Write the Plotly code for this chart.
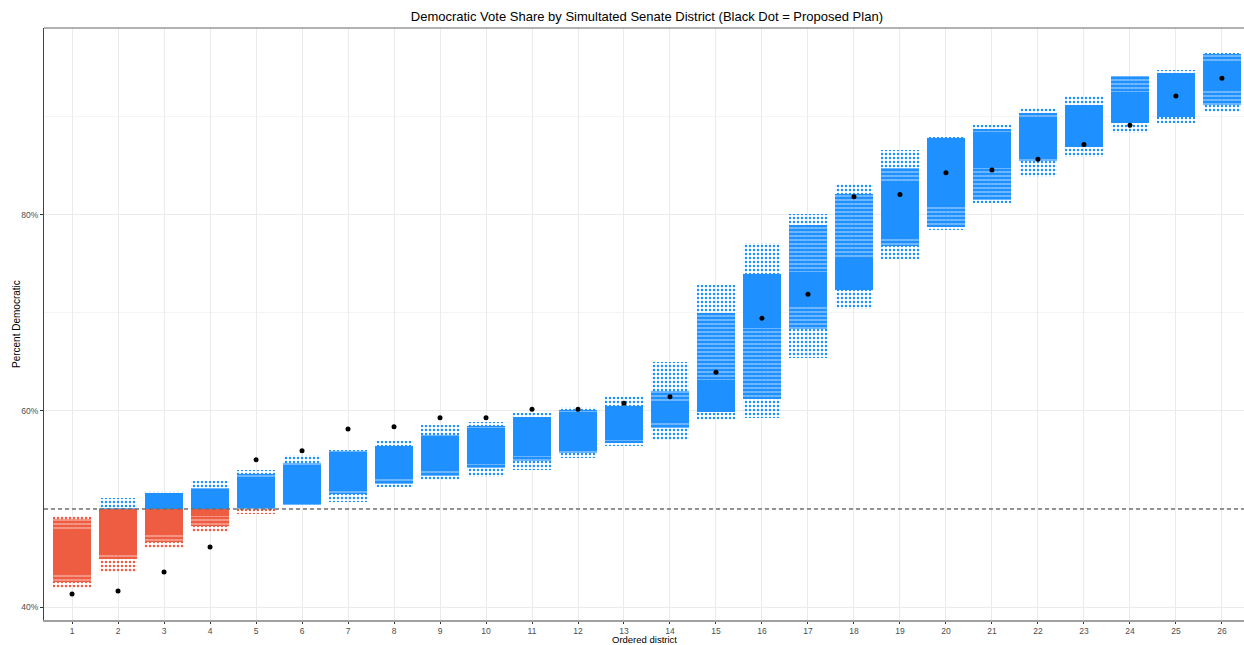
import plotly.graph_objects as go

# ---------------- data ----------------
districts = list(range(1, 27))
tick_labels = [str(d) for d in districts]

# full extent of the simulated points (sparse outliers included)
outer_lo = [41.9, 43.6, 46.0, 47.7, 49.5, 50.4, 50.75, 52.2, 52.95, 53.3, 54.0, 55.2, 56.4,
            57.0, 59.1, 59.3, 65.4, 70.4, 75.5, 78.5, 81.2, 83.9, 85.9, 88.4, 89.4, 90.5]
outer_hi = [49.3, 51.1, 51.8, 52.9, 54.0, 55.5, 56.0, 56.9, 58.6, 58.9, 59.8, 60.4, 61.5,
            65.0, 72.9, 77.1, 80.1, 83.2, 86.6, 88.0, 89.2, 90.9, 92.1, 94.2, 94.8, 96.5]
# streaky (fairly dense) band
mid_lo = [42.5, 44.9, 46.6, 48.3, 50.0, 50.4, 51.5, 52.6, 53.4, 54.2, 54.9, 55.7, 56.7,
          58.3, 59.9, 61.2, 68.4, 72.3, 76.8, 78.8, 81.5, 85.5, 86.9, 89.4, 90.0, 91.2]
mid_hi = [49.0, 50.1, 51.6, 52.1, 53.6, 54.7, 55.95, 56.4, 57.6, 58.5, 59.4, 60.1, 60.5,
          62.0, 70.0, 74.0, 79.0, 82.1, 84.8, 87.9, 88.8, 90.4, 91.2, 94.2, 94.5, 96.4]
# solid core band
core_lo = [43.5, 45.5, 47.3, 49.3, 50.1, 50.5, 52.0, 53.3, 54.0, 54.6, 55.4, 56.0, 57.0,
           58.9, 59.9, 68.5, 70.6, 72.4, 77.8, 80.9, 84.8, 85.8, 87.0, 89.5, 90.0, 92.9]
core_hi = [48.0, 50.0, 51.5, 52.0, 53.3, 54.5, 55.8, 56.3, 57.4, 58.3, 59.2, 59.9, 60.4,
           60.8, 63.2, 74.0, 74.2, 75.5, 83.4, 87.8, 88.5, 90.0, 91.0, 92.6, 94.5, 95.5]
# proposed plan (black dots)
proposed = [41.33, 41.63, 43.57, 46.12, 55.03, 55.95, 58.16, 58.4, 59.32, 59.32, 60.17,
            60.17, 60.78, 61.46, 63.95, 69.46, 71.92, 81.85, 82.1, 84.32, 84.59, 85.7,
            87.18, 89.15, 92.14, 93.95]
threshold = 50.0
y_ticks = [40, 60, 80]
y_tick_labels = ["40%", "60%", "80%"]

RED = "#EE5C42"
BLUE = "#1E90FF"
BAR_W = 0.84

fig = go.Figure()


def split(lo, hi, below):
    bases, lens = [], []
    for a, b in zip(lo, hi):
        if below:
            top = min(b, threshold)
            if a < top:
                bases.append(a); lens.append(top - a)
            else:
                bases.append(None); lens.append(None)
        else:
            bot = max(a, threshold)
            if b > bot:
                bases.append(bot); lens.append(b - bot)
            else:
                bases.append(None); lens.append(None)
    return bases, lens


def add_layer(lo, hi, pattern):
    for below, col in ((True, RED), (False, BLUE)):
        bases, lens = split(lo, hi, below)
        marker = dict(color=col, line=dict(width=0))
        if pattern is not None:
            marker["pattern"] = dict(shape=pattern[0], size=pattern[1], solidity=pattern[2],
                                     fgcolor=col, bgcolor="rgba(0,0,0,0)", fillmode="replace")
        fig.add_trace(go.Bar(x=districts, y=lens, base=bases, width=BAR_W,
                             marker=marker, showlegend=False, hoverinfo="skip"))


add_layer(outer_lo, outer_hi, (".", 4, 0.3))
add_layer(mid_lo, mid_hi, ("-", 4, 0.82))
add_layer(core_lo, core_hi, None)

fig.add_trace(go.Scatter(x=districts, y=proposed, mode="markers",
                         marker=dict(color="black", size=5), showlegend=False,
                         hoverinfo="skip"))

# 50% reference line
fig.add_shape(type="line", xref="paper", x0=0, x1=1, yref="y", y0=threshold, y1=threshold,
              line=dict(color="#707070", width=1.5, dash="4px,3px"), layer="above")
# top border of panel
fig.add_shape(type="line", xref="paper", x0=0, x1=1, yref="paper", y0=1, y1=1,
              line=dict(color="#666666", width=1))

FONT = "Liberation Sans, Arial, sans-serif"
fig.update_layout(
    width=1244, height=645,
    margin=dict(l=44, r=0, t=28, b=25, autoexpand=False),
    paper_bgcolor="white", plot_bgcolor="white",
    barmode="overlay", bargap=0,
    font=dict(family=FONT, color="black"),
    title=dict(text="Democratic Vote Share by Simultated Senate District (Black Dot = Proposed Plan)",
               x=0.52, xanchor="center", xref="container", y=1 - 16 / 645, yanchor="middle",
               yref="container", font=dict(size=13, color="black", family=FONT)),
    xaxis=dict(range=[0.39, 26.48], tickvals=districts, ticktext=tick_labels,
               showgrid=True, gridcolor="#EBEBEB", gridwidth=1, zeroline=False,
               showline=True, linecolor="#A0A0A0", linewidth=2,
               ticks="outside", ticklen=2, tickcolor="#333333", tickwidth=1,
               tickfont=dict(size=8.5, color="#4D4D4D", family=FONT), automargin=False),
    yaxis=dict(range=[38.673, 99.08], tickvals=y_ticks, ticktext=y_tick_labels,
               showgrid=True, gridcolor="#EBEBEB", gridwidth=1, zeroline=False,
               minor=dict(dtick=10, tick0=0, showgrid=True, gridcolor="#F4F4F4", gridwidth=1),
               showline=True, linecolor="#444444", linewidth=1,
               ticks="outside", ticklen=3, tickcolor="#333333", tickwidth=1,
               tickfont=dict(size=8.5, color="#4D4D4D", family=FONT), automargin=False),
    annotations=[
        dict(text="Percent Democratic", xref="paper", yref="paper", x=0, y=0.5,
             xshift=-28, xanchor="center", yanchor="middle", textangle=-90, showarrow=False,
             font=dict(size=10, color="black", family=FONT)),
        dict(text="Ordered district", xref="paper", yref="paper", x=0.5, y=0,
             yshift=-19.5, xanchor="center", yanchor="middle", showarrow=False,
             font=dict(size=9.5, color="black", family=FONT)),
    ],
)

fig.write_html("out.html")
